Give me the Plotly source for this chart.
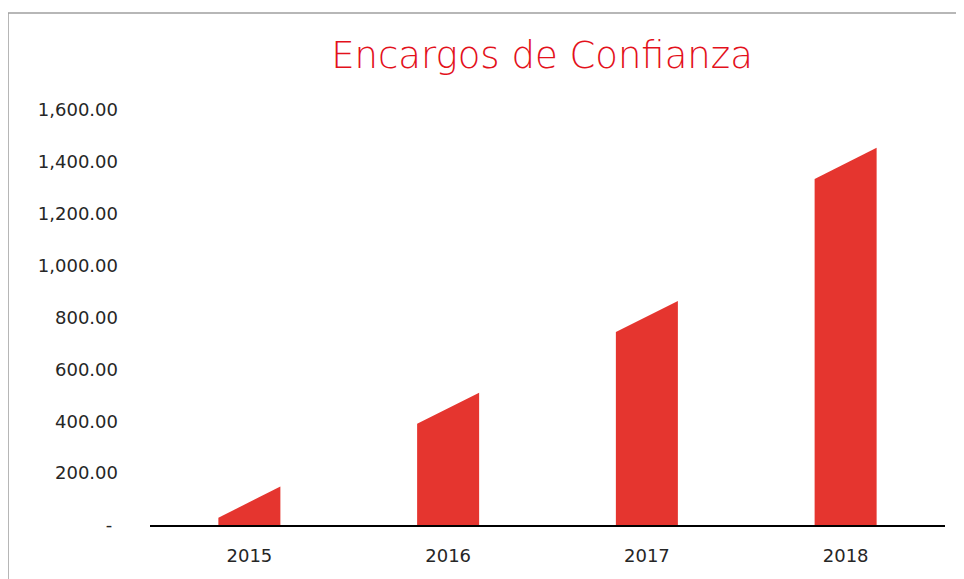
import plotly.graph_objs as go

# ------------ Datos ------------
anios = ["2015", "2016", "2017", "2018"]
valores = [148, 510, 864, 1454]          # altura del borde derecho de cada columna
ticks_y = [0, 200, 400, 600, 800, 1000, 1200, 1400, 1600]
etiquetas_y = ["-\u00a0", "200.00", "400.00", "600.00", "800.00",
               "1,000.00", "1,200.00", "1,400.00", "1,600.00"]

# ------------ Estilo ------------
ROJO_BARRA = "#E5352F"
ROJO_TITULO = "#E3111B"
TEXTO = "#262626"
inclinacion = 120      # caída del borde izquierdo (efecto 3D), en unidades del eje
media_ancho = 0.156    # medio ancho de columna en unidades de categoría

fig = go.Figure()

for i, v in enumerate(valores):
    izq = v - inclinacion
    fig.add_trace(go.Scatter(
        x=[i - media_ancho, i - media_ancho, i + media_ancho, i + media_ancho, i - media_ancho],
        y=[0, izq, v, 0, 0],
        mode="lines", fill="toself", fillcolor=ROJO_BARRA,
        line=dict(width=0, color=ROJO_BARRA),
        hoverinfo="skip", showlegend=False,
    ))

# la página añade 8 px de margen, se compensa en los márgenes
fig.update_layout(
    width=964, height=579,
    margin=dict(l=142, r=27, t=102, b=61.5),
    paper_bgcolor="white", plot_bgcolor="white",
    font=dict(family="DejaVu Sans", size=18, color=TEXTO),
    title=dict(
        text="Encargos de Confianza",
        font=dict(family="DejaVu Sans", size=37, color=ROJO_TITULO, weight=300),
        x=534 / 964, xanchor="center", xref="container",
        y=1 - 47 / 579, yanchor="middle", yref="container",
    ),
    xaxis=dict(
        range=[-0.5, 3.5],
        tickvals=list(range(len(anios))), ticktext=anios,
        showgrid=False, zeroline=False,
        showline=True, linecolor="black", linewidth=1.6,
        ticks="", ticklabelstandoff=14,
        fixedrange=True,
    ),
    yaxis=dict(
        range=[0, 1600],
        tickvals=ticks_y, ticktext=etiquetas_y,
        showgrid=False, zeroline=False, showline=False,
        ticks="", ticklabelstandoff=31,
        fixedrange=True,
    ),
    shapes=[dict(
        type="rect", xref="paper", yref="paper",
        x0=-0.1786, x1=1.2, y0=-0.3, y1=1.2335,
        line=dict(color="#A0A0A0", width=1.5), fillcolor="rgba(0,0,0,0)",
        layer="below",
    )],
)

fig.write_html("out.html")
